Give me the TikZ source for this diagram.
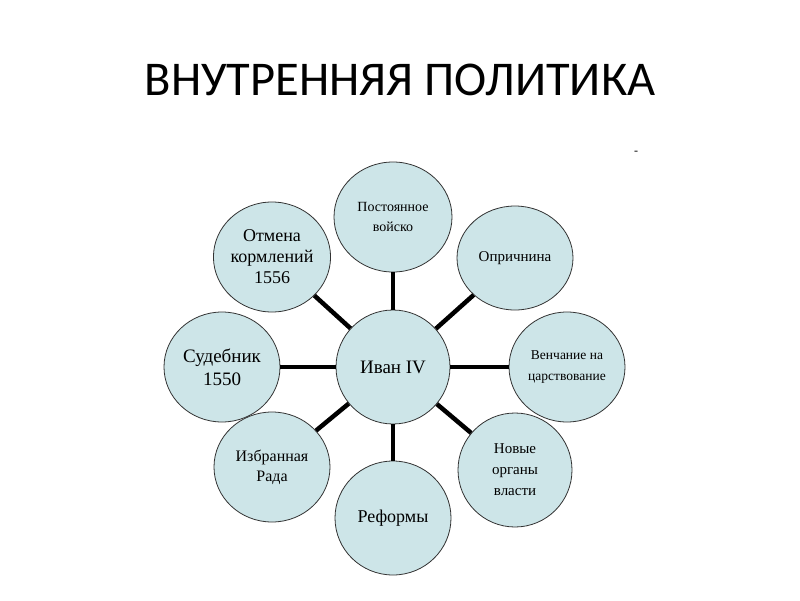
\documentclass[tikz,border=0pt]{standalone}
\usepackage{fontspec}
\setmainfont{Liberation Serif}
\newfontfamily\titlefont{Carlito}
\usetikzlibrary{shapes.geometric}
\definecolor{petalfill}{RGB}{205,229,232}
\definecolor{rim}{RGB}{50,50,50}

\begin{document}
\begin{tikzpicture}[x=1pt, y=-1pt,
    petal/.style={ellipse, draw=rim, line width=0.8pt, fill=petalfill, inner sep=0pt, align=center},
    spoke/.style={line width=4.5pt}]
  \useasboundingbox (0,0) rectangle (800,600);
  \node[font=\titlefont\fontsize{48.5}{58}\selectfont] (title) at (400,80) {ВНУТРЕННЯЯ ПОЛИТИКА};
  \node[font=\fontsize{12}{12}\selectfont] (mark) at (636,153) {-};
  \node[petal, minimum width=114, minimum height=114, font=\fontsize{19}{22}\selectfont] (ivan) at (393,367) {Иван IV};
  \foreach \px/\py/\w/\h/\fs/\ls/\lab/\id in {
      393/217/118/110/14/20/{Постоянное\\войско}/army,
      515/258/116/104/15/20/{Опричнина}/opr,
      567/367/116/110/13.5/21/{Венчание на\\царствование}/crown,
      515/470/114/114/15/21/{Новые\\органы\\власти}/organs,
      393/518/116/114/18/21/{Реформы}/reform,
      272/467/116/110/16/20/{Избранная\\Рада}/rada,
      222/367/116/110/19/23/{Судебник\\1550}/code,
      272/257/114/110/18/21/{Отмена\\кормлений\\1556}/korm} {
    \node[petal, minimum width=\w, minimum height=\h, font=\fontsize{\fs}{\ls}\selectfont] (\id) at (\px,\py) {\lab};
  }
  \foreach \id in {army,opr,crown,organs,reform,rada,code,korm}
    \draw[spoke] (ivan) -- (\id);
\end{tikzpicture}
\end{document}
